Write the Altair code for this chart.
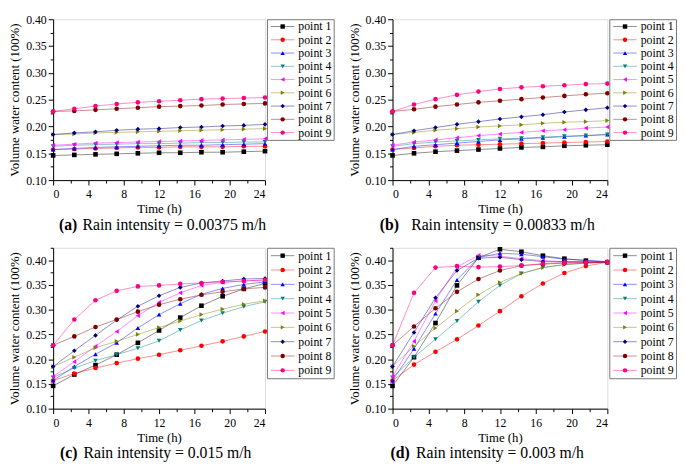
import altair as alt
import pandas as pd

FONT = "'Liberation Serif', 'Times New Roman', Times, serif"

TIME = [0, 2.4, 4.8, 7.2, 9.6, 12, 14.4, 16.8, 19.2, 21.6, 24]
SERIES = ["point 1", "point 2", "point 3", "point 4", "point 5",
          "point 6", "point 7", "point 8", "point 9"]
COLORS = ["#000000", "#ff0000", "#0000ff", "#008080", "#ff00ff",
          "#808000", "#000080", "#800000", "#ff0080"]
SHAPES = ["square", "circle", "triangle-up", "triangle-down", "triangle-left",
          "triangle-right", "diamond", "circle", "circle"]

# (a) Rain intensity = 0.00375 m/h
PANEL_A = [
    [0.146, 0.147, 0.148, 0.149, 0.150, 0.151, 0.151, 0.152, 0.152, 0.153, 0.154],
    [0.157, 0.158, 0.159, 0.160, 0.161, 0.161, 0.162, 0.162, 0.162, 0.163, 0.163],
    [0.157, 0.159, 0.161, 0.162, 0.163, 0.164, 0.165, 0.165, 0.166, 0.167, 0.168],
    [0.163, 0.165, 0.166, 0.167, 0.168, 0.168, 0.169, 0.170, 0.170, 0.171, 0.171],
    [0.165, 0.167, 0.169, 0.170, 0.171, 0.172, 0.173, 0.174, 0.175, 0.176, 0.177],
    [0.185, 0.186, 0.188, 0.189, 0.190, 0.191, 0.192, 0.193, 0.194, 0.195, 0.196],
    [0.185, 0.188, 0.190, 0.193, 0.195, 0.196, 0.198, 0.199, 0.201, 0.202, 0.204],
    [0.228, 0.229, 0.231, 0.233, 0.235, 0.237, 0.238, 0.239, 0.241, 0.242, 0.243],
    [0.228, 0.233, 0.238, 0.242, 0.245, 0.247, 0.249, 0.251, 0.252, 0.253, 0.254],
]
# (b) Rain intensity = 0.00833 m/h
PANEL_B = [
    [0.146, 0.150, 0.153, 0.155, 0.157, 0.159, 0.161, 0.162, 0.164, 0.165, 0.166],
    [0.157, 0.160, 0.163, 0.165, 0.166, 0.167, 0.168, 0.169, 0.170, 0.171, 0.172],
    [0.157, 0.163, 0.166, 0.169, 0.172, 0.175, 0.177, 0.179, 0.181, 0.183, 0.185],
    [0.163, 0.168, 0.171, 0.173, 0.175, 0.177, 0.178, 0.180, 0.182, 0.183, 0.185],
    [0.165, 0.171, 0.175, 0.179, 0.183, 0.186, 0.189, 0.192, 0.194, 0.197, 0.199],
    [0.185, 0.189, 0.193, 0.196, 0.199, 0.201, 0.203, 0.206, 0.208, 0.209, 0.211],
    [0.185, 0.192, 0.198, 0.204, 0.209, 0.214, 0.218, 0.222, 0.227, 0.231, 0.235],
    [0.228, 0.232, 0.237, 0.241, 0.245, 0.248, 0.251, 0.254, 0.257, 0.260, 0.262],
    [0.228, 0.241, 0.251, 0.259, 0.265, 0.270, 0.273, 0.275, 0.277, 0.279, 0.280],
]
# (c) Rain intensity = 0.015 m/h
PANEL_C = [
    [0.146, 0.169, 0.188, 0.209, 0.233, 0.258, 0.284, 0.308, 0.327, 0.342, 0.353],
    [0.157, 0.171, 0.182, 0.192, 0.201, 0.209, 0.218, 0.227, 0.236, 0.246, 0.256],
    [0.157, 0.185, 0.210, 0.233, 0.263, 0.290, 0.312, 0.331, 0.343, 0.351, 0.356],
    [0.163, 0.182, 0.197, 0.209, 0.222, 0.237, 0.259, 0.278, 0.293, 0.306, 0.316],
    [0.165, 0.195, 0.226, 0.256, 0.288, 0.315, 0.334, 0.349, 0.355, 0.358, 0.360],
    [0.185, 0.204, 0.223, 0.236, 0.250, 0.264, 0.277, 0.290, 0.301, 0.311, 0.318],
    [0.185, 0.217, 0.248, 0.279, 0.307, 0.328, 0.345, 0.354, 0.358, 0.362, 0.363],
    [0.228, 0.246, 0.265, 0.280, 0.296, 0.310, 0.321, 0.330, 0.336, 0.342, 0.345],
    [0.228, 0.280, 0.319, 0.338, 0.347, 0.349, 0.352, 0.354, 0.356, 0.358, 0.360],
]
# (d) Rain intensity = 0.003 m/h
PANEL_D = [
    [0.146, 0.204, 0.273, 0.349, 0.405, 0.422, 0.417, 0.409, 0.403, 0.399, 0.396],
    [0.157, 0.189, 0.215, 0.240, 0.268, 0.297, 0.327, 0.353, 0.374, 0.388, 0.396],
    [0.157, 0.221, 0.292, 0.360, 0.405, 0.414, 0.412, 0.407, 0.402, 0.400, 0.397],
    [0.163, 0.204, 0.240, 0.277, 0.316, 0.349, 0.373, 0.385, 0.391, 0.394, 0.396],
    [0.165, 0.236, 0.318, 0.386, 0.410, 0.408, 0.403, 0.399, 0.397, 0.396, 0.396],
    [0.185, 0.226, 0.263, 0.297, 0.330, 0.355, 0.373, 0.385, 0.391, 0.394, 0.396],
    [0.185, 0.254, 0.324, 0.379, 0.404, 0.406, 0.401, 0.397, 0.397, 0.397, 0.396],
    [0.228, 0.266, 0.303, 0.336, 0.362, 0.379, 0.389, 0.392, 0.394, 0.395, 0.396],
    [0.228, 0.334, 0.385, 0.388, 0.386, 0.387, 0.389, 0.393, 0.395, 0.395, 0.396],
]

CAPTION_TAGS = ["(a)", "(b)", "(c)", "(d)"]
CAPTION_TEXTS = ["Rain intensity = 0.00375 m/h", "Rain intensity = 0.00833 m/h",
                 "Rain intensity = 0.015 m/h", "Rain intensity = 0.003 m/h"]

X_MAJOR = [0, 4, 8, 12, 16, 20, 24]
X_MINOR = [2, 6, 10, 14, 18, 22]
Y_MAJOR = [0.10, 0.15, 0.20, 0.25, 0.30, 0.35, 0.40]
Y_MINOR = [0.125, 0.175, 0.225, 0.275, 0.325, 0.375, 0.425]

PLOT_H = 164

color_enc = alt.Color("series:N", scale=alt.Scale(domain=SERIES, range=COLORS), legend=None)
shape_enc = alt.Shape("series:N", scale=alt.Scale(domain=SERIES, range=SHAPES), legend=None)

common_axis = dict(grid=False, domainColor="black", tickColor="black", labelColor="black",
                   titleColor="black", labelFont=FONT, titleFont=FONT, labelFontSize=12,
                   titleFontSize=13, titleFontWeight="normal", domainWidth=1, tickWidth=1)


def make_legend(height):
    leg_df = pd.DataFrame({"series": SERIES})
    ly = alt.Y("series:N", scale=alt.Scale(type="point", domain=SERIES, padding=0.55), axis=None)
    rule = alt.Chart(leg_df).mark_rule(strokeWidth=1, opacity=0.45).encode(
        x=alt.value(4), x2=alt.value(28), y=ly, color=color_enc)
    pts = alt.Chart(leg_df).mark_point(filled=True, size=20, opacity=1).encode(
        x=alt.value(16), y=ly, color=color_enc, shape=shape_enc)
    txt = alt.Chart(leg_df).mark_text(align="left", baseline="middle", font=FONT,
                                      fontSize=12, color="black").encode(
        x=alt.value(32), y=ly, text="series:N")
    return alt.layer(rule, pts, txt).properties(
        width=68, height=height,
        view=alt.ViewBackground(stroke="#777777", strokeWidth=1, strokeOpacity=1))


def make_panel(values, ytop, idx, tag_dx, text_dx, cap_dy, width, leg_h):
    rows = []
    for s, vals in zip(SERIES, values):
        for t, v in zip(TIME, vals):
            rows.append({"time": t, "value": v, "series": s})
    df = pd.DataFrame(rows)
    xs = alt.Scale(domain=[0, 24], nice=False, zero=False)
    ys = alt.Scale(domain=[0.10, ytop], nice=False, zero=False)
    x_axis = alt.Axis(values=X_MAJOR, title="Time (h)", format="d", tickSize=5,
                      labelPadding=4, titlePadding=3, **common_axis)
    y_axis = alt.Axis(values=Y_MAJOR, title="Volume water content (100%)", format=".2f",
                      tickSize=5, labelPadding=2, titlePadding=4, **common_axis)
    x_minor = alt.Axis(values=X_MINOR, orient="bottom", labels=False, domain=False,
                       tickSize=3, title="", grid=False, tickColor="black", tickWidth=1)
    y_minor = alt.Axis(values=[v for v in Y_MINOR if v <= ytop + 1e-9], orient="left",
                       labels=False, domain=False, tickSize=3, title="", grid=False,
                       tickColor="black", tickWidth=1)
    base = alt.Chart(df)
    lines = base.mark_line(strokeWidth=1, opacity=0.45).encode(
        x=alt.X("time:Q", scale=xs, axis=x_axis),
        y=alt.Y("value:Q", scale=ys, axis=y_axis),
        color=color_enc, detail="series:N")
    pts = base.mark_point(filled=True, size=22, opacity=1).encode(
        x=alt.X("time:Q", scale=xs, axis=None),
        y=alt.Y("value:Q", scale=ys, axis=None),
        color=color_enc, shape=shape_enc)
    minor = base.mark_point(opacity=0).encode(
        x=alt.X("time:Q", scale=xs, axis=x_minor),
        y=alt.Y("value:Q", scale=ys, axis=y_minor))
    cap_df = pd.DataFrame({"tag": [CAPTION_TAGS[idx]], "text": [CAPTION_TEXTS[idx]]})
    cap_tag = alt.Chart(cap_df).mark_text(align="left", baseline="middle", font=FONT,
                                          fontSize=16, fontWeight="bold", color="black").encode(
        x=alt.value(tag_dx), y=alt.value(PLOT_H + cap_dy), text="tag:N")
    cap_txt = alt.Chart(cap_df).mark_text(align="left", baseline="middle", font=FONT,
                                          fontSize=16, color="black").encode(
        x=alt.value(text_dx), y=alt.value(PLOT_H + cap_dy), text="text:N")
    plot = alt.layer(lines, pts, minor, cap_tag, cap_txt).resolve_axis(
        x="independent", y="independent").properties(width=width, height=PLOT_H)
    return alt.hconcat(plot, make_legend(leg_h), spacing=2, bounds="flush")


pa = make_panel(PANEL_A, 0.40, 0, 6, 30, 46, 216, 123)
pb = make_panel(PANEL_B, 0.40, 1, -13, 19, 46, 219, 123)
pc = make_panel(PANEL_C, 0.425, 2, 7, 31, 45, 216, 133)
pd_ = make_panel(PANEL_D, 0.425, 3, -2, 24, 45, 219, 133)

chart = alt.vconcat(
    alt.hconcat(pa, pb, spacing=13),
    alt.hconcat(pc, pd_, spacing=13),
    spacing=12,
).configure_view(strokeOpacity=0).configure(background="white").properties(padding=0)

chart.save("out.html", embed_options={"renderer": "svg", "actions": False})
